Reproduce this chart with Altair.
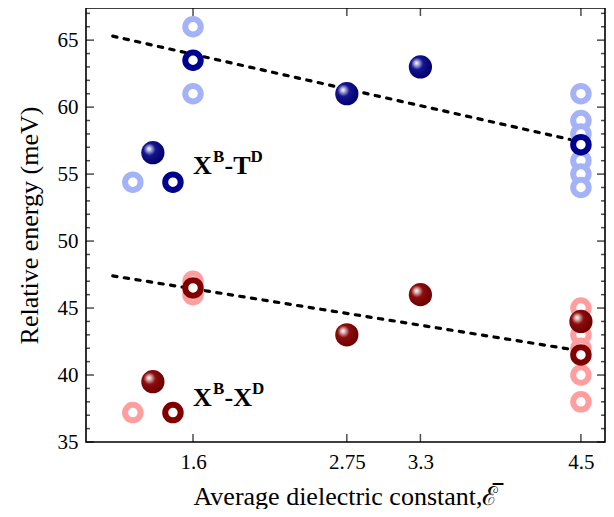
import altair as alt
import pandas as pd

# ---------------- data ----------------
X_MIN, X_MAX = 0.8, 4.68
Y_MIN, Y_MAX = 35, 67.4
x_ticks = [1.6, 2.75, 3.3, 4.5]
y_major = [35, 40, 45, 50, 55, 60, 65]
y_minor = [v for v in range(36, 68) if v % 5]

# X^B - T^D (blue)
blue_ball_x = [1.3, 2.75, 3.3]
blue_ball_y = [56.6, 61.0, 63.0]
blue_dark_x = [1.45, 1.6, 4.5]
blue_dark_y = [54.4, 63.5, 57.2]
blue_light_x = [1.15, 1.6, 1.6, 4.5, 4.5, 4.5, 4.5, 4.5, 4.5]
blue_light_y = [54.4, 66.0, 61.0, 61.0, 59.0, 58.0, 56.0, 55.0, 54.0]
blue_fit_x = [1.0, 4.5]
blue_fit_y = [65.3, 57.4]

# X^B - X^D (red)
red_ball_x = [1.3, 2.75, 3.3, 4.5]
red_ball_y = [39.5, 43.0, 46.0, 44.0]
red_dark_x = [1.45, 1.6, 4.5]
red_dark_y = [37.2, 46.5, 41.5]
red_light_x = [1.15, 1.6, 1.6, 4.5, 4.5, 4.5, 4.5, 4.5]
red_light_y = [37.2, 47.0, 46.0, 45.0, 43.0, 42.0, 40.0, 38.0]
red_fit_x = [1.0, 4.5]
red_fit_y = [47.4, 41.8]

label_x = [1.6, 1.6]
label_y = [55.0, 37.7]
label_main1 = ["X", "X"]
label_sup1 = ["B", "B"]
label_main2 = ["-T", "-X"]
label_sup2 = ["D", "D"]

# ---------------- styling ----------------
FONT = "Liberation Serif"
DARK_BLUE = "#000090"
LIGHT_BLUE = "#a4b2f8"
DARK_RED = "#800000"
LIGHT_RED = "#ff9e9e"

xs = alt.Scale(domain=[X_MIN, X_MAX], nice=False, zero=False)
ys = alt.Scale(domain=[Y_MIN, Y_MAX], nice=False, zero=False)

x_axis = alt.Axis(values=x_ticks, labelExpr="format(datum.value, '.3~g')",
                  title="Average dielectric constant,\u2130\u0305",
                  domain=False, ticks=False, grid=False, labelFont=FONT, labelFontSize=21,
                  labelColor="black", labelPadding=9, labelFlush=False, labelOverlap=False,
                  titleFont=FONT, titleFontSize=26, titleFontWeight="normal",
                  titleColor="black", titlePadding=11)
y_axis = alt.Axis(values=y_major, labelExpr="format(datum.value, '.3~g')",
                  title="Relative energy (meV)",
                  domain=False, ticks=False, grid=False, labelFont=FONT, labelFontSize=21,
                  labelColor="black", labelPadding=8, labelFlush=False, labelOverlap=False,
                  titleFont=FONT, titleFontSize=26, titleFontWeight="normal",
                  titleColor="black", titlePadding=15)


def X(f="x"):
    return alt.X(f, type="quantitative", scale=xs, axis=x_axis)


def Y(f="y"):
    return alt.Y(f, type="quantitative", scale=ys, axis=y_axis)


def df(xv, yv):
    return pd.DataFrame({"x": xv, "y": yv})


def ball(color_hi, color_mid, color_dark):
    return alt.RadialGradient(
        gradient="radial", x1=0.33, y1=0.33, r1=0.0, x2=0.4, y2=0.4, r2=0.62,
        stops=[alt.GradientStop(color="white", offset=0.0),
               alt.GradientStop(color=color_hi, offset=0.14),
               alt.GradientStop(color=color_mid, offset=0.42),
               alt.GradientStop(color=color_dark, offset=1.0)])


layers = []

# fit lines
for fx, fy in [(blue_fit_x, blue_fit_y), (red_fit_x, red_fit_y)]:
    layers.append(alt.Chart(df(fx, fy)).mark_line(
        color="black", strokeWidth=3.2, strokeDash=[4.3, 7.4], strokeCap="round"
    ).encode(x=X(), y=Y()))

# open rings (light first, then dark)
for xv, yv, col in [(blue_light_x, blue_light_y, LIGHT_BLUE), (red_light_x, red_light_y, LIGHT_RED),
                    (blue_dark_x, blue_dark_y, DARK_BLUE), (red_dark_x, red_dark_y, DARK_RED)]:
    layers.append(alt.Chart(df(xv, yv)).mark_circle(
        size=240, fill="white", stroke=col, strokeWidth=6, opacity=1
    ).encode(x=X(), y=Y()))

# shaded balls
layers.append(alt.Chart(df(blue_ball_x, blue_ball_y)).mark_circle(
    size=540, opacity=1, fill=ball("#b8b8e0", "#141490", "#00006a")
).encode(x=X(), y=Y()))
layers.append(alt.Chart(df(red_ball_x, red_ball_y)).mark_circle(
    size=540, opacity=1, fill=ball("#e0b8b8", "#8c0c0c", "#6a0000")
).encode(x=X(), y=Y()))

# in-plot legend labels with superscripts
lab = pd.DataFrame({"x": label_x, "y": label_y, "m1": label_main1, "s1": label_sup1,
                    "m2": label_main2, "s2": label_sup2})
for i in range(len(lab)):
    row = lab.iloc[[i]]
    d2 = 57.5 if row["m2"].iloc[0] == "-T" else 59
    for field, dx, dy, fs in [("m1", 0, 0, 26), ("s1", 20, -12, 17), ("m2", 31.5, 0, 26), ("s2", d2, -12, 17)]:
        layers.append(alt.Chart(row).mark_text(
            font=FONT, fontWeight="bold", fontSize=fs, align="left", baseline="alphabetic",
            color="black", dx=dx, dy=dy
        ).encode(x=X(), y=Y(), text=alt.Text(field, type="nominal")))

# inward frame ticks
tick_style = dict(color="black", thickness=1.5)
layers.append(alt.Chart(df([X_MIN] * len(y_major), y_major)).mark_tick(
    orient="horizontal", size=8, xOffset=4, **tick_style).encode(x=X(), y=Y()))
layers.append(alt.Chart(df([X_MIN] * len(y_minor), y_minor)).mark_tick(
    orient="horizontal", size=4, xOffset=2, **tick_style).encode(x=X(), y=Y()))
layers.append(alt.Chart(df([X_MAX] * len(y_major), y_major)).mark_tick(
    orient="horizontal", size=8, xOffset=-4, **tick_style).encode(x=X(), y=Y()))
layers.append(alt.Chart(df([X_MAX] * len(y_minor), y_minor)).mark_tick(
    orient="horizontal", size=4, xOffset=-2, **tick_style).encode(x=X(), y=Y()))
layers.append(alt.Chart(df(x_ticks, [Y_MIN] * len(x_ticks))).mark_tick(
    orient="vertical", size=8, yOffset=-4, **tick_style).encode(x=X(), y=Y()))
layers.append(alt.Chart(df(x_ticks, [Y_MAX] * len(x_ticks))).mark_tick(
    orient="vertical", size=8, yOffset=4, **tick_style).encode(x=X(), y=Y()))

chart = alt.layer(*layers).properties(
    width=519, height=434,
    padding={"left": 78, "top": 0, "right": 1, "bottom": 67},
    autosize=alt.AutoSizeParams(type="none"),
).configure(
    font=FONT, background="white"
).configure_axis(
    labelFont=FONT, titleFont=FONT
).configure_view(stroke="black", strokeWidth=1.6)

chart.save("out.html", embed_options={"renderer": "svg", "actions": False})
